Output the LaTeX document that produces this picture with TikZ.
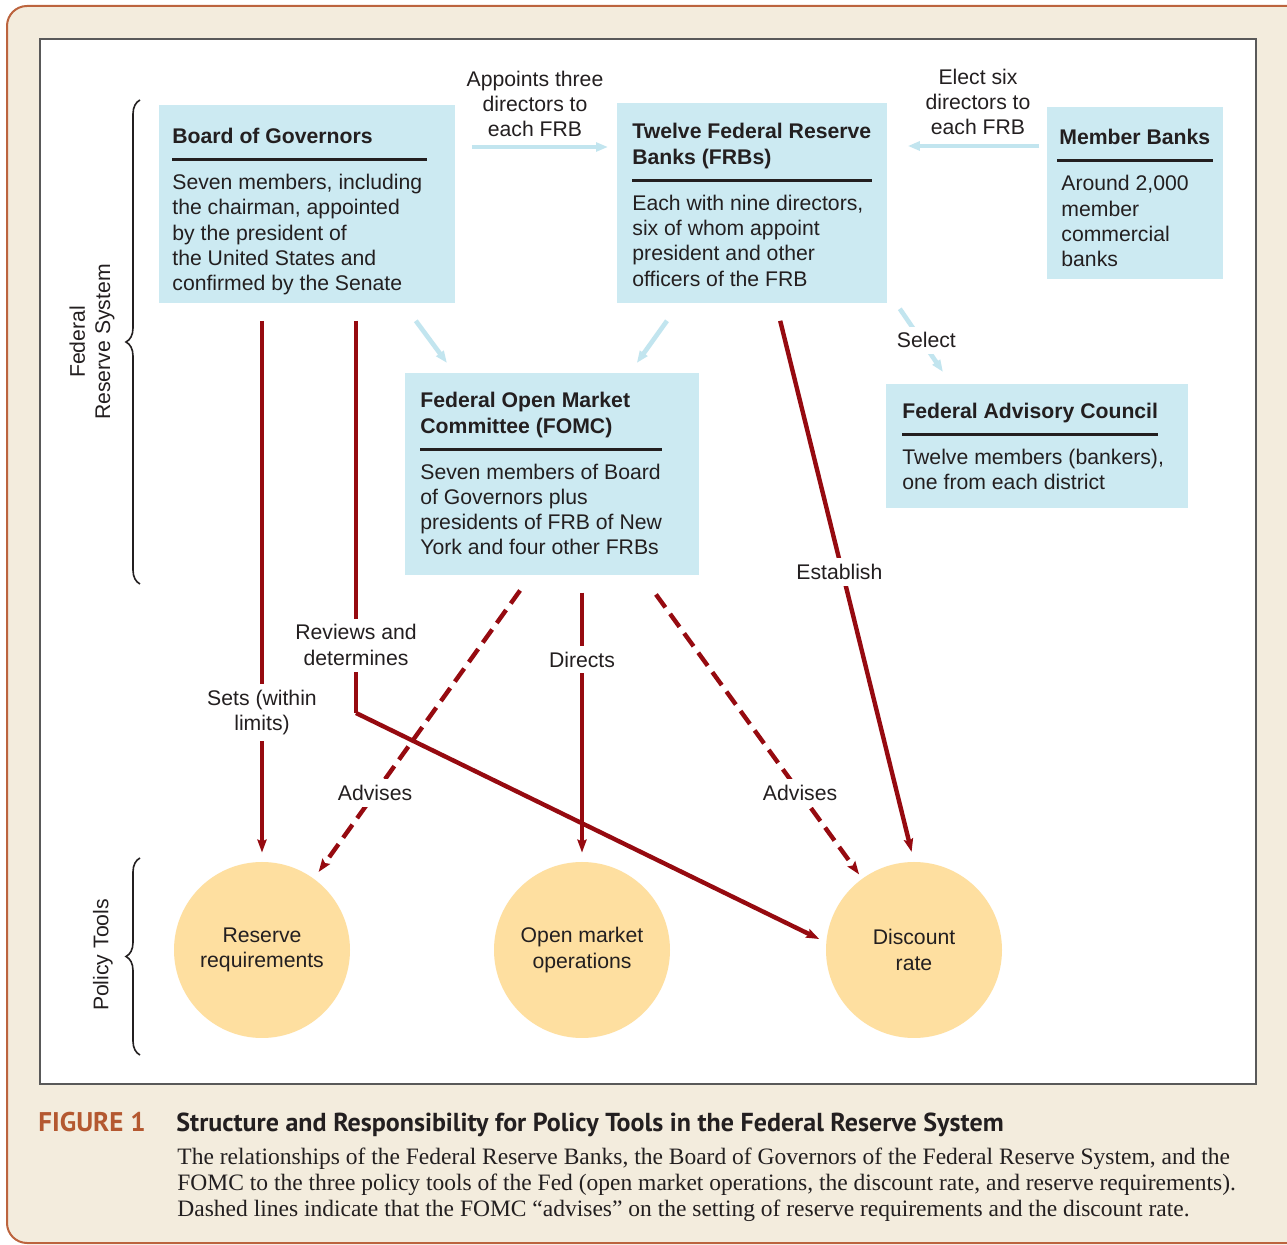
\documentclass[tikz,border=0pt]{standalone}
\usepackage{fontspec}
\setmainfont{Liberation Sans}
\newfontfamily\captionserif{Liberation Serif}
\newfontfamily\captionsans{PT Sans}
\usetikzlibrary{arrows.meta,calc,decorations.pathreplacing}

\definecolor{fedblue}{RGB}{204,234,242}
\definecolor{fedarrow}{RGB}{194,229,239}
\definecolor{fedred}{RGB}{150,10,16}
\definecolor{toolgold}{RGB}{254,223,160}
\definecolor{inkgray}{RGB}{35,31,32}
\definecolor{framebeige}{RGB}{243,236,221}
\definecolor{framerust}{RGB}{188,100,62}
\definecolor{figrust}{RGB}{180,88,48}

\newcommand{\diagfont}{\fontsize{10.6pt}{12.65pt}\selectfont}
% box text: inner width, height, rule width, first baseline, title, body
\newcommand{\fedtext}[6]{%
  \parbox[c][#2][t]{#1}{\rule{0pt}{#4}\textbf{#5}\rule[-3pt]{0pt}{3pt}\par
    \vspace{4.25pt}\hrule height 1.5pt width #3\vspace{4.25pt}%
    \rule{0pt}{10pt}#6}}

\tikzset{
  fedbox/.style={fill=fedblue, inner ysep=0pt, anchor=north west},
  tool/.style={circle, fill=toolgold, minimum size=88pt, inner sep=0pt, align=center},
  lbl/.style={inner sep=0pt, align=center},
  onlink/.style={fill=white, inner sep=3pt, align=center},
  redlink/.style={draw=fedred, line width=2.2pt, -{Stealth[length=6.5pt,width=4.6pt,inset=1pt]}},
  advlink/.style={redlink, dash pattern=on 8pt off 4pt},
  bluelink/.style={draw=fedarrow, line width=2.3pt, -{Triangle[length=6pt,width=4.4pt]}},
  brace/.style={draw=inkgray, line width=0.8pt, decorate, decoration={brace, amplitude=7pt}}
}

\begin{document}
\begin{tikzpicture}[x=0.5pt, y=-0.5pt, font=\diagfont, text=inkgray]
        \useasboundingbox (0,0) rectangle (1287,1245);
        \clip (0,0) rectangle (1287,1245);

        % Frame
        \draw[framerust, fill=framebeige, line width=1pt, rounded corners=10pt] (7,6) rectangle (1310,1243);
        \draw[black!65, fill=white, line width=0.75pt] (40,39) rectangle (1256,1084);

        % Boxes
        \node[fedbox, inner xsep=6.5pt] (bog) at (159,105) {\fedtext{135pt}{99pt}{127.5pt}{19.15pt}{Board of Governors}{Seven members, including\\the chairman, appointed\\by the president of\\the United States and\\confirmed by the Senate}};
        \node[fedbox, inner xsep=7.5pt] (frb) at (617,103) {\fedtext{120pt}{100pt}{120pt}{17.75pt}{Twelve Federal Reserve\\Banks (FRBs)}{Each with nine directors,\\six of whom appoint\\president and other\\officers of the FRB}};
        \node[fedbox, inner xsep=5pt] (mb) at (1047,107) {\fedtext{78pt}{86pt}{78pt}{18.8pt}{\hspace{1pt}Member Banks}{\hspace{2pt}Around 2,000\\\hspace*{2pt}member\\\hspace*{2pt}commercial\\\hspace*{2pt}banks}};
        \node[fedbox, inner xsep=7.5pt] (fomc) at (405,373) {\fedtext{132pt}{100.7pt}{121pt}{17.2pt}{Federal Open Market\\Committee (FOMC)}{Seven members of Board\\of Governors plus\\presidents of FRB of New\\York and four other FRBs}};
        \node[fedbox, inner xsep=8pt] (fac) at (886,384) {\fedtext{135pt}{62pt}{128pt}{17.15pt}{Federal Advisory Council}{Twelve members (bankers),\\one from each district}};

        % Policy tools
        \node[tool] (rr) at (262,950) {Reserve\\requirements};
        \node[tool] (om) at (582,950) {Open market\\operations};
        \node[tool] (dr) at (914,950) {Discount\\rate};

        % Braces
        \draw[brace] (140,584) -- (140,100);
        \node[lbl, rotate=90] (frslbl) at (92,342) {Federal\\Reserve System};
        \draw[brace] (140,1055) -- (140,858);
        \node[lbl, rotate=90] (ptlbl) at (103,955) {Policy Tools};

        % Appointment links
        \draw[bluelink] ($(bog.north east)+(16,42)$) -- ($(frb.north west)+(-9,44)$);
        \node[lbl] (appointlbl) at (535,104) {Appoints three\\directors to\\each FRB};
        \draw[bluelink] ($(mb.north west)+(-8,39)$) -- ($(frb.north east)+(20,43)$);
        \node[lbl] (electlbl) at (978,102) {Elect six\\directors to\\each FRB};
        \draw[bluelink] ($(bog.south east)+(-40,17)$) -- ($(fomc.north west)+(42,-10)$);
        \draw[bluelink] ($(frb.south west)+(50,17)$) -- ($(fomc.north east)+(-63,-10)$);
        \draw[bluelink] ($(frb.south east)+(12,5)$) -- node[onlink, xshift=2.5pt] {Select} ($(fac.north west)+(57,-12)$);

        % Policy links
        \coordinate (bend) at (356,713);
        \draw[redlink, shorten <=8.5pt, shorten >=4.5pt] (bog.south -| rr.north) -- node[onlink, pos=0.733] {Sets (within\\limits)} (rr.north);
        \draw[redlink, -, shorten <=8.5pt] (bog.south -| bend) -- node[onlink, pos=0.834] {Reviews and\\determines} (bend);
        \draw[redlink, shorten >=3.7pt] (bend) -- (dr.175);
        \draw[redlink, shorten <=8.7pt, shorten >=4.5pt] (om.north |- fomc.south) -- node[onlink, pos=0.295] {Directs} (om.north);
        \draw[redlink, shorten <=8.75pt, shorten >=5pt] ($(frb.south west)+(159,0)$) -- node[onlink, pos=0.481, xshift=-1.5pt] {Establish} (dr.north);
        \draw[advlink, shorten <=9.4pt, shorten >=4pt] ($(fomc.south west)+(126,0)$) -- node[onlink, pos=0.7185] {Advises} (rr.54);
        \draw[advlink, shorten <=11.9pt, shorten >=2.5pt] ($(fomc.south west)+(237,0)$) -- node[onlink, pos=0.7185] {Advises} (dr.126);

        % Caption
        \node[anchor=base west, inner sep=0pt, text=figrust, font=\captionsans\bfseries\fontsize{13.5pt}{15pt}\selectfont] (figno) at (38,1131) {FIGURE 1};
        \node[anchor=base west, inner sep=0pt, font=\captionsans\bfseries\fontsize{13pt}{15pt}\selectfont] (figtitle) at (176,1131) {Structure and Responsibility for Policy Tools in the Federal Reserve System};
        \node[anchor=base west, inner sep=0pt, font=\captionserif\fontsize{11.75pt}{13pt}\selectfont] (figtext) at (177,1165) {\parbox[t]{560pt}{The relationships of the Federal Reserve Banks, the Board of Governors of the Federal Reserve System, and the\\FOMC to the three policy tools of the Fed (open market operations, the discount rate, and reserve requirements).\\Dashed lines indicate that the FOMC \textquotedblleft advises\textquotedblright\ on the setting of reserve requirements and the discount rate.}};
    \end{tikzpicture}
\end{document}
